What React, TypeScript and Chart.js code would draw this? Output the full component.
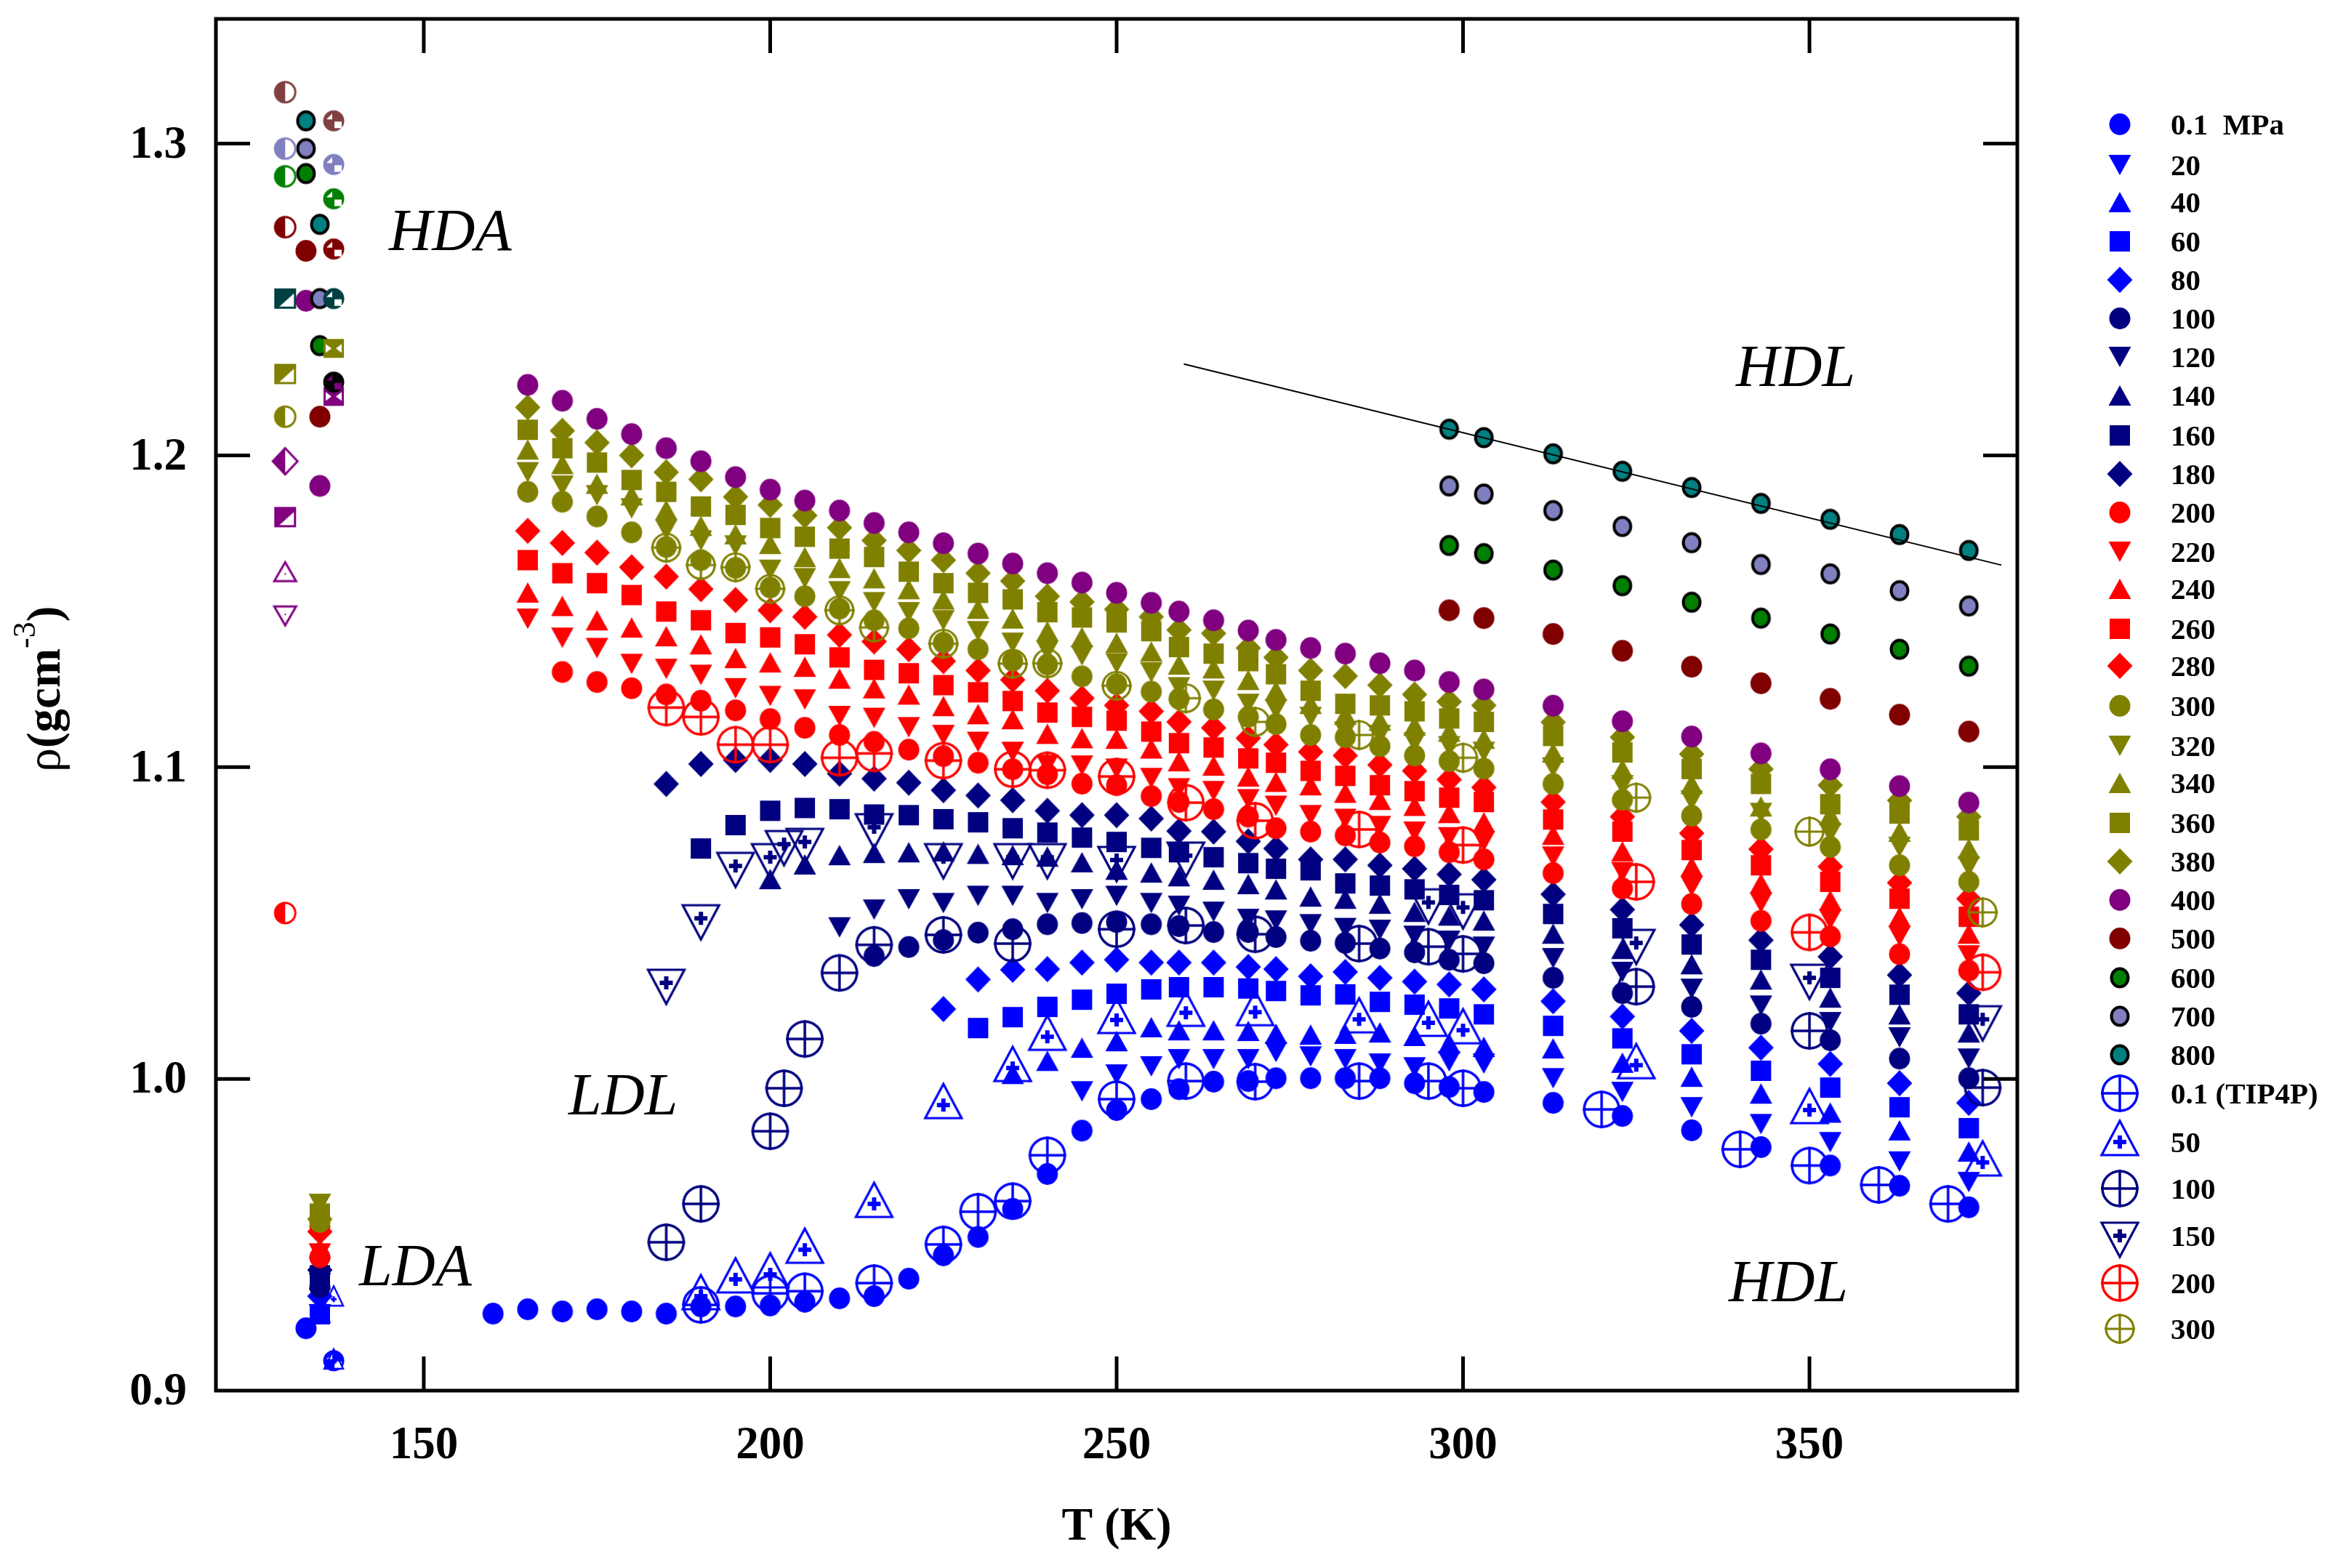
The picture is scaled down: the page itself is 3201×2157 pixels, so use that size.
import React, { useEffect, useRef } from "react";
import { Chart, registerables } from "chart.js";

Chart.register(...registerables);

// ---------- data ----------
const T_MAIN = [165,170,175,180,185,190,195,200,205,210,215,220,225,230,235,240,245,250,255,259,264,269,273,278,283,288,293,298,303,313,323,333,343,353,363,373];
const T_HIGH = [298,303,313,323,333,343,353,363,373];

const RHO_0_1 = [0.9261,0.9254,0.9261,0.9254,0.9247,0.927,0.927,0.9273,0.9285,0.9296,0.9303,0.9359,0.9434,0.9493,0.9583,0.9695,0.9834,0.99,0.9935,0.9967,0.9991,0.9993,1.0002,1.0002,1.0002,1.0002,0.9986,0.9974,0.9958,0.9923,0.9881,0.9835,0.9781,0.9722,0.9657,0.9588];
const RHO_20 = [0.996,1.0014,1.004,1.0063,1.0063,1.0063,1.0086,1.0072,1.0063,1.0049,1.0037,1.0056,1.0049,1.0002,0.9958,0.9909,0.9855,0.9797,0.9735,0.9669];
const RHO_40 = [1.0016,1.0058,1.01,1.0121,1.0166,1.0156,1.0156,1.0154,1.0145,1.0142,1.0145,1.0149,1.0138,1.0114,1.0103,1.0098,1.0052,1.0007,0.9953,0.9892,0.9835,0.9767];
const RHO_60 = [1.0163,1.0198,1.0231,1.0254,1.0273,1.0287,1.0294,1.0294,1.029,1.0282,1.0268,1.0271,1.0247,1.0238,1.0226,1.0207,1.017,1.013,1.0079,1.0026,0.9972,0.9909,0.9842];
const RHO_80 = [1.0224,1.0319,1.035,1.0352,1.0373,1.0382,1.0373,1.0373,1.0373,1.0359,1.0352,1.0329,1.0343,1.0324,1.0312,1.0303,1.0287,1.0249,1.02,1.0154,1.01,1.0048,0.9986,0.9923];
const RHO_100 = [1.0394,1.0423,1.0445,1.0469,1.048,1.0496,1.05,1.0503,1.0496,1.049,1.0471,1.0471,1.0455,1.0443,1.0436,1.0418,1.0406,1.0382,1.0371,1.0324,1.0275,1.0231,1.0177,1.0124,1.0065,1.0002];
const RHO_120 = [1.0486,1.0543,1.0576,1.0564,1.0587,1.0587,1.0564,1.0576,1.0587,1.0564,1.0555,1.0536,1.0513,1.0508,1.0496,1.0484,1.0478,1.0459,1.0443,1.0424,1.0387,1.0343,1.0289,1.0235,1.0182,1.0133,1.0065];
const RHO_140 = [1.0641,1.0688,1.0718,1.0725,1.0727,1.073,1.0722,1.0718,1.0713,1.0695,1.0671,1.0662,1.065,1.0639,1.0625,1.0608,1.0585,1.0578,1.0562,1.0536,1.0524,1.0508,1.0466,1.0417,1.0368,1.0319,1.0261,1.0207,1.0149];
const RHO_160 = [1.0739,1.0814,1.086,1.0869,1.0865,1.0848,1.0846,1.0833,1.0823,1.0804,1.079,1.0774,1.076,1.0741,1.0727,1.0711,1.0692,1.0674,1.0669,1.0627,1.062,1.0608,1.059,1.0573,1.0529,1.0483,1.0431,1.0382,1.0324,1.027,1.0207];
const RHO_180 = [1.0946,1.101,1.1023,1.1023,1.101,1.0979,1.0963,1.095,1.0926,1.0909,1.0894,1.086,1.0846,1.0846,1.0835,1.0795,1.0793,1.0762,1.0739,1.0704,1.0704,1.0685,1.0674,1.0656,1.0639,1.0592,1.0543,1.0494,1.0445,1.0392,1.0333,1.0275];
const RHO_200 = [1.1305,1.1273,1.1253,1.1233,1.1213,1.1182,1.1154,1.1126,1.1103,1.1081,1.1056,1.1035,1.1014,1.0993,1.0977,1.0947,1.0942,1.0907,1.0888,1.0865,1.0841,1.0804,1.0793,1.0781,1.0758,1.0746,1.0727,1.0704,1.066,1.0611,1.0561,1.0507,1.0457,1.04,1.0347];
const RHO_220 = [1.1476,1.1415,1.1382,1.1331,1.1315,1.1296,1.1253,1.1228,1.1217,1.1164,1.1158,1.1128,1.1103,1.1081,1.1049,1.1007,1.1005,1.0995,1.0965,1.0932,1.0923,1.0897,1.0876,1.0846,1.0834,1.0811,1.0793,1.0775,1.0762,1.0713,1.0663,1.0618,1.0565,1.0511,1.0458,1.0396];
const RHO_240 = [1.156,1.1517,1.1471,1.1448,1.142,1.1394,1.135,1.1336,1.1322,1.1284,1.1253,1.1233,1.1196,1.117,1.1154,1.1107,1.1093,1.1091,1.106,1.1019,1.1005,1.097,1.0953,1.0942,1.0918,1.0895,1.0876,1.0853,1.0823,1.0783,1.073,1.0681,1.0627,1.0573,1.052,1.0466];
const RHO_260 = [1.1664,1.1622,1.159,1.1552,1.1499,1.1471,1.143,1.1416,1.1394,1.1352,1.1312,1.1301,1.1263,1.124,1.1212,1.1175,1.1161,1.1149,1.1114,1.1077,1.1063,1.1028,1.1014,1.0988,1.0972,1.0942,1.0923,1.0902,1.0888,1.0832,1.0793,1.0734,1.0685,1.0632,1.0578,1.052];
const RHO_280 = [1.1758,1.1719,1.1688,1.1641,1.1611,1.1571,1.1536,1.1503,1.1482,1.1424,1.1403,1.1378,1.134,1.131,1.128,1.1245,1.1221,1.1198,1.1179,1.1145,1.1126,1.1093,1.1072,1.1049,1.1037,1.1007,1.0988,1.096,1.0935,1.0888,1.0841,1.0788,1.0737,1.0681,1.0629,1.0578];
const RHO_300 = [1.1883,1.1851,1.1804,1.1753,1.1706,1.1664,1.1639,1.1576,1.1548,1.1508,1.1471,1.1445,1.1399,1.1378,1.1341,1.1329,1.1291,1.1266,1.1242,1.1219,1.1185,1.1161,1.1138,1.1103,1.1096,1.1067,1.1037,1.1019,1.0995,1.0946,1.0895,1.0844,1.08,1.0744,1.0685,1.0632];
const RHO_320 = [1.1946,1.1903,1.1872,1.183,1.1762,1.1727,1.1711,1.1633,1.1606,1.1564,1.1529,1.1497,1.1471,1.1436,1.1399,1.1373,1.1358,1.1333,1.1304,1.1256,1.1245,1.1203,1.1185,1.1161,1.1114,1.1103,1.1079,1.1067,1.1049,1.0999,1.0942,1.0893,1.0853,1.0788,1.0744,1.0681];
const RHO_340 = [1.2019,1.1972,1.1909,1.1872,1.1825,1.1774,1.1747,1.1716,1.1674,1.1639,1.1606,1.1571,1.1538,1.1508,1.1477,1.1436,1.1417,1.1399,1.1371,1.1329,1.1317,1.128,1.1245,1.1203,1.1168,1.1149,1.1133,1.1114,1.1091,1.1047,1.0994,1.0946,1.0874,1.0846,1.0793,1.0739];
const RHO_360 = [1.2082,1.2023,1.1977,1.1921,1.1883,1.1836,1.1809,1.1767,1.1739,1.1701,1.1674,1.1627,1.159,1.1559,1.1538,1.1497,1.148,1.1464,1.1436,1.1385,1.1364,1.134,1.1298,1.1245,1.1203,1.1198,1.1179,1.1156,1.1145,1.11,1.1047,1.0994,1.0946,1.0881,1.0851,1.0797];
const RHO_380 = [1.2154,1.2079,1.2041,1.2,1.1946,1.1923,1.1867,1.1841,1.1807,1.1768,1.1727,1.1695,1.1664,1.1622,1.1597,1.1548,1.153,1.1506,1.1482,1.144,1.1429,1.1382,1.1352,1.131,1.1292,1.1263,1.1233,1.121,1.1198,1.1144,1.1096,1.1042,1.0994,1.0942,1.0893,1.0841];
const RHO_400 = [1.2226,1.2175,1.2117,1.2068,1.2023,1.1981,1.193,1.189,1.1855,1.1823,1.1783,1.1753,1.1718,1.1685,1.1653,1.1622,1.1592,1.1559,1.1527,1.1499,1.1471,1.1438,1.1408,1.1382,1.1364,1.1333,1.131,1.1273,1.1249,1.1197,1.1147,1.1098,1.1044,1.0993,1.0939,1.0886];
const RHO_500 = [1.1503,1.1478,1.1427,1.1373,1.1322,1.1269,1.1219,1.1168,1.1114];
const RHO_600 = [1.1711,1.1685,1.1632,1.1582,1.1529,1.1478,1.1427,1.1378,1.1324];
const RHO_700 = [1.1902,1.1876,1.1823,1.1772,1.172,1.165,1.162,1.1566,1.1517];
const RHO_800 = [1.2084,1.2057,1.2005,1.1949,1.1897,1.1846,1.1795,1.1746,1.1695];

// low-temperature points, same order as the pressures
const LDA_135 = [0.9245,0.925,0.9245,0.9303,0.9332,0.9345,0.9357,0.937,0.9387,0.9428,0.944,0.9457,0.9548,0.951,0.9541,0.9599,0.9558,0.9568,0.955];
const RHO_0_1_LOW_T = [133,160];
const RHO_0_1_LOW = [0.92,0.9247];
const HDA_133 = [1.2496,1.2656,1.2904,1.2984,1.3073]; // 400..800
const HDA_135 = [1.1902,1.2124,1.2352,1.2503,1.2741]; // 400..800

// TIP4P simulation series
const T_SIM_0_1 = [190,200,205,215,225,230,235,240,250,260,270,285,295,300,320,340,350,360,370];
const SIM_0_1 = [0.9275,0.9312,0.9319,0.9345,0.9469,0.9574,0.9608,0.9755,0.9935,0.9993,0.9991,0.9993,0.9993,0.997,0.9902,0.9774,0.9722,0.966,0.9599];
const T_SIM_50 = [190,195,200,205,215,225,235,240,250,260,270,285,295,300,325,350,375];
const SIM_50 = [0.9303,0.9357,0.9373,0.9452,0.9599,0.9916,1.0035,1.0135,1.0189,1.0212,1.0214,1.0191,1.018,1.0156,1.0044,0.99,0.9732];
const T_SIM_100 = [185,190,200,202,205,210,215,225,235,250,260,270,285,295,300,325,350,375];
const SIM_100 = [0.9476,0.9599,0.9832,0.997,1.0128,1.034,1.043,1.0462,1.0434,1.048,1.0492,1.0464,1.0434,1.0424,1.0401,1.0296,1.0154,0.9972];
const T_SIM_150 = [185,190,195,200,202,205,215,225,235,240,250,260,295,300,325,350,375];
const SIM_150 = [1.0308,1.0515,1.0683,1.0711,1.0753,1.076,1.0807,1.0711,1.0711,1.0711,1.0702,1.0716,1.0566,1.055,1.0436,1.0324,1.0191];
const T_SIM_HI = [185,190,195,200,210,215,225,235,240,250,260,270,285,300,325,350,375];
const SIM_200 = [1.1191,1.1161,1.1072,1.1072,1.103,1.1044,1.1021,1.0993,1.099,1.097,1.0886,1.0828,1.08,1.075,1.0632,1.047,1.0342];
const SIM_300 = [1.1704,1.1648,1.1641,1.1572,1.1503,1.1448,1.1396,1.1332,1.1333,1.1261,1.1221,1.1145,1.1103,1.103,1.0902,1.0793,1.0534];

// amorphous-ice single points with part-filled symbols
const HALF_CIRCLE_T = 130;
const HALF_CIRCLE_RHO = [1.3165,1.2984,1.2895,1.2732,1.2124,1.0532];
const HALF_SQUARE_RHO = [1.2503,1.2261,1.1802];
const HALF_DIAMOND_RHO = [1.1981];
const OPEN_UP_RHO = [1.1627];
const OPEN_DOWN_RHO = [1.1485];
const QUARTER_T = 137;
const QUARTER_RHO = [1.3073,1.2933,1.2823,1.2662,1.2503,0.9096];
const BLACK_QUARTER_RHO = [1.2235];
const BOWTIE_RHO = [1.2189,1.2343];
const SMALL_OPEN_UP_RHO = [0.9298,0.9096];

const FIT_LINE_T = [259.7,377.7];
const FIT_LINE_RHO = [1.2293,1.1648];

const X_MAJOR_STEP = 50;
const LEGEND_LABELS = ["0.1  MPa","20","40","60","80","100","120","140","160","180","200","220","240","260","280","300","320","340","360","380","400","500","600","700","800","0.1 (TIP4P)","50","100","150","200","300"];

// ---------- style ----------
const BLUE = "#0000ff", NAVY = "#000080", RED = "#ff0000", OLIVE = "#808000", PURPLE = "#800080";
const MAROON = "#800000", GREEN = "#008000", LAV = "#8080c0", TEAL = "#008080", BROWN = "#804040", DTEAL = "#004040";
const SERIF = "'Liberation Serif', 'Times New Roman', serif";
const LEGEND_ROW_Y = [171,227,278,332,385,438,491,544,599,652,705,759,810,865,916,971,1026,1077,1132,1185,1238,1291,1345,1398,1451,1504,1571,1635,1700,1765,1828];

function poly(c: any, pts: number[][]) {
  c.beginPath();
  pts.forEach((p, i) => (i ? c.lineTo(p[0], p[1]) : c.moveTo(p[0], p[1])));
  c.closePath();
}
function marker(kind: string, color: string, inner = "#ffffff") {
  const cv = document.createElement("canvas");
  cv.width = 80; cv.height = 80;
  const c: any = cv.getContext("2d");
  c.translate(40, 40);
  c.fillStyle = color; c.strokeStyle = color;
  const plus = (s: number, t: number, y = 0) => {
    c.fillRect(-s, y - t / 2, 2 * s, t);
    c.fillRect(-t / 2, y - s, t, 2 * s);
  };
  const crossCircle = (r: number, w: number) => {
    c.lineWidth = w;
    c.beginPath(); c.arc(0, 0, r, 0, Math.PI * 2); c.stroke();
    c.beginPath(); c.moveTo(-r - 2, 0); c.lineTo(r + 2, 0); c.moveTo(0, -r - 2); c.lineTo(0, r + 2); c.stroke();
  };
  switch (kind) {
    case "circle": c.beginPath(); c.ellipse(0, 0, 14.5, 15, 0, 0, Math.PI * 2); c.fill(); break;
    case "triDown": poly(c, [[-15.5,-14],[15.5,-14],[0,14]]); c.fill(); break;
    case "triUp": poly(c, [[-15.5,14],[15.5,14],[0,-14]]); c.fill(); break;
    case "square": c.fillRect(-14, -14, 28, 28); break;
    case "diamond": poly(c, [[0,-18],[17.5,0],[0,18],[-17.5,0]]); c.fill(); break;
    case "ringed":
      c.beginPath(); c.ellipse(0, 0, 11.5, 12.5, 0, 0, Math.PI * 2); c.fill();
      c.strokeStyle = "#000"; c.lineWidth = 4; c.stroke();
      break;
    case "crossCircle": crossCircle(24, 3.5); break;
    case "crossCircleSmall": crossCircle(19, 3.2); break;
    case "crossTriUp":
      c.lineWidth = 3.2; poly(c, [[0,-29],[25,18],[-25,18]]); c.stroke(); plus(9, 6, 0); break;
    case "crossTriDown":
      c.lineWidth = 3.2; poly(c, [[0,29],[25,-18],[-25,-18]]); c.stroke(); plus(9, 6, 0); break;
    case "halfCircle":
      c.lineWidth = 3; c.beginPath(); c.arc(0, 0, 14, 0, Math.PI * 2); c.stroke();
      c.beginPath(); c.arc(0, 0, 14, Math.PI / 2, Math.PI * 1.5); c.closePath(); c.fill(); break;
    case "halfSquare":
      c.fillRect(-15, -14, 30, 28);
      c.fillStyle = "#fff"; poly(c, [[12,-7],[12,11],[-8,11]]); c.fill(); break;
    case "halfDiamond":
      c.lineWidth = 3; poly(c, [[0,-18],[17,0],[0,18],[-17,0]]); c.stroke();
      poly(c, [[0,-18],[0,18],[-17,0]]); c.fill(); break;
    case "openUp":
      c.lineWidth = 3; poly(c, [[0,-13],[15,13],[-15,13]]); c.stroke(); c.fillRect(-1, 2, 2, 2); break;
    case "openDown":
      c.lineWidth = 3; poly(c, [[0,13],[15,-13],[-15,-13]]); c.stroke(); c.fillRect(-1, -3, 2, 2); break;
    case "smallOpenUp":
      c.lineWidth = 2.4; poly(c, [[0,-16],[13,11],[-13,11]]); c.stroke(); plus(4, 3, 2); break;
    case "quarter":
      c.beginPath(); c.arc(0, 0, 14.5, 0, Math.PI * 2); c.fill();
      c.fillStyle = inner;
      c.fillRect(1, 1, 10, 9);
      poly(c, [[-10,-2],[-2,-2],[-2,-10]]); c.fill();
      break;
    case "bowtie":
      c.fillRect(-14, -13, 28, 26);
      c.fillStyle = "#fff";
      poly(c, [[-11,-6],[-3,0],[-11,6]]); c.fill();
      poly(c, [[11,-6],[3,0],[11,6]]); c.fill();
      break;
  }
  return cv;
}

const at = (Ts: number[], rhos: number[]) => rhos.map((y, i) => ({ x: Ts[i], y }));
const tail = (rhos: number[]) => at(T_MAIN.slice(T_MAIN.length - rhos.length), rhos);
const lda = (i: number) => ({ x: 135, y: LDA_135[i] });

function buildSeries() {
  const solid = (i: number, rhos: number[], kind: string, color: string) => ({
    label: LEGEND_LABELS[i], kind, color, data: [lda(i - 1), ...tail(rhos)],
  });
  const high = (i: number, j: number, rhos: number[], kind: string, color: string) => ({
    label: LEGEND_LABELS[i], kind, color,
    data: [{ x: 133, y: HDA_133[j] }, { x: 135, y: HDA_135[j] }, ...at(T_HIGH, rhos)],
  });
  return [
    { label: LEGEND_LABELS[0], kind: "circle", color: BLUE, data: [...at(RHO_0_1_LOW_T, RHO_0_1_LOW), ...tail(RHO_0_1)] },
    solid(1, RHO_20, "triDown", BLUE),
    solid(2, RHO_40, "triUp", BLUE),
    solid(3, RHO_60, "square", BLUE),
    solid(4, RHO_80, "diamond", BLUE),
    solid(5, RHO_100, "circle", NAVY),
    solid(6, RHO_120, "triDown", NAVY),
    solid(7, RHO_140, "triUp", NAVY),
    solid(8, RHO_160, "square", NAVY),
    solid(9, RHO_180, "diamond", NAVY),
    solid(10, RHO_200, "circle", RED),
    solid(11, RHO_220, "triDown", RED),
    solid(12, RHO_240, "triUp", RED),
    solid(13, RHO_260, "square", RED),
    solid(14, RHO_280, "diamond", RED),
    solid(15, RHO_300, "circle", OLIVE),
    solid(16, RHO_320, "triDown", OLIVE),
    solid(17, RHO_340, "triUp", OLIVE),
    solid(18, RHO_360, "square", OLIVE),
    solid(19, RHO_380, "diamond", OLIVE),
    { label: LEGEND_LABELS[20], kind: "circle", color: PURPLE, data: [{ x: 133, y: HDA_133[0] }, { x: 135, y: HDA_135[0] }, ...tail(RHO_400)] },
    high(21, 1, RHO_500, "circle", MAROON),
    high(22, 2, RHO_600, "ringed", GREEN),
    high(23, 3, RHO_700, "ringed", LAV),
    high(24, 4, RHO_800, "ringed", TEAL),
    { label: LEGEND_LABELS[25], kind: "crossCircle", color: BLUE, data: at(T_SIM_0_1, SIM_0_1) },
    { label: LEGEND_LABELS[26], kind: "crossTriUp", color: BLUE, data: at(T_SIM_50, SIM_50) },
    { label: LEGEND_LABELS[27], kind: "crossCircle", color: NAVY, data: at(T_SIM_100, SIM_100) },
    { label: LEGEND_LABELS[28], kind: "crossTriDown", color: NAVY, data: at(T_SIM_150, SIM_150) },
    { label: LEGEND_LABELS[29], kind: "crossCircle", color: RED, data: at(T_SIM_HI, SIM_200) },
    { label: LEGEND_LABELS[30], kind: "crossCircleSmall", color: OLIVE, data: at(T_SIM_HI, SIM_300) },
  ];
}

function buildExtras() {
  const out: any[] = [];
  const add = (kind: string, color: string, x: number, y: number, inner?: string) =>
    out.push({ kind, color, inner, data: [{ x, y }] });
  [BROWN, LAV, GREEN, MAROON, OLIVE, RED].forEach((col, i) => add("halfCircle", col, HALF_CIRCLE_T, HALF_CIRCLE_RHO[i]));
  [DTEAL, OLIVE, PURPLE].forEach((col, i) => add("halfSquare", col, HALF_CIRCLE_T, HALF_SQUARE_RHO[i]));
  add("halfDiamond", PURPLE, HALF_CIRCLE_T, HALF_DIAMOND_RHO[0]);
  add("openUp", PURPLE, HALF_CIRCLE_T, OPEN_UP_RHO[0]);
  add("openDown", PURPLE, HALF_CIRCLE_T, OPEN_DOWN_RHO[0]);
  add("bowtie", PURPLE, QUARTER_T, BOWTIE_RHO[0]);
  add("bowtie", OLIVE, QUARTER_T, BOWTIE_RHO[1]);
  [BROWN, LAV, GREEN, MAROON, DTEAL, BLUE].forEach((col, i) => add("quarter", col, QUARTER_T, QUARTER_RHO[i]));
  add("quarter", "#000000", QUARTER_T, BLACK_QUARTER_RHO[0], PURPLE);
  SMALL_OPEN_UP_RHO.forEach((v) => add("smallOpenUp", BLUE, QUARTER_T, v));
  return out;
}

const ANNOTATIONS: [string, number, number][] = [
  ["HDA", 535, 344],
  ["HDL", 2388, 531],
  ["HDL", 2378, 1790],
  ["LDL", 782, 1533],
  ["LDA", 494, 1768],
];

export default function App() {
  const ref = useRef<HTMLCanvasElement>(null);
  useEffect(() => {
    const series = buildSeries().map((s) => ({ ...s, canvas: marker(s.kind, s.color) }));
    const extras = buildExtras().map((s) => ({ ...s, canvas: marker(s.kind, s.color, s.inner) }));
    const all: any[] = [...series, ...extras];
    const datasets: any[] = all.map((s, i) => ({
      label: s.label ?? "",
      data: s.data,
      pointStyle: s.canvas,
      pointRadius: 14,
      pointHoverRadius: 14,
      showLine: false,
      clip: false,
      order: all.length + 1 - i,
    }));
    datasets.push({
      label: "fit",
      data: at(FIT_LINE_T, FIT_LINE_RHO),
      showLine: true,
      pointRadius: 0,
      borderColor: "#000000",
      borderWidth: 2,
      clip: false,
      order: 0,
    });

    const decor = {
      id: "decor",
      beforeDraw(chart: any) {
        const c = chart.ctx;
        c.save();
        c.fillStyle = "#ffffff";
        c.fillRect(0, 0, chart.width, chart.height);
        c.restore();
      },
      afterDatasetsDraw(chart: any) {
        const c = chart.ctx;
        const { left, right, top, bottom } = chart.chartArea;
        const xs = chart.scales.x, ys = chart.scales.y;
        c.save();
        c.strokeStyle = "#000";
        c.lineCap = "butt";
        xs.ticks.forEach((t: any) => {
          if (t.value <= xs.min || t.value >= xs.max) return;
          const major = Math.round(t.value) % X_MAJOR_STEP === 0;
          const len = major ? 47 : 23;
          const px = xs.getPixelForValue(t.value);
          c.lineWidth = major ? 5 : 4;
          c.beginPath();
          c.moveTo(px, bottom); c.lineTo(px, bottom - len);
          c.moveTo(px, top); c.lineTo(px, top + len);
          c.stroke();
        });
        ys.ticks.forEach((t: any) => {
          if (t.value <= ys.min + 1e-6 || t.value >= ys.max - 1e-6) return;
          const major = Math.round(t.value * 100) % 10 === 0;
          const len = major ? 47 : 23;
          const py = ys.getPixelForValue(t.value);
          c.lineWidth = major ? 5 : 4;
          c.beginPath();
          c.moveTo(left, py); c.lineTo(left + len, py);
          c.moveTo(right, py); c.lineTo(right - len, py);
          c.stroke();
        });
        c.lineWidth = 5;
        c.strokeRect(left, top, right - left, bottom - top);

        c.fillStyle = "#000";
        c.textBaseline = "alphabetic";
        c.textAlign = "left";
        c.font = `italic 400 82px ${SERIF}`;
        ANNOTATIONS.forEach(([txt, x, y]) => c.fillText(txt, x, y));

        // y-axis title with a true superscript
        c.save();
        c.translate(82, 1062);
        c.rotate(-Math.PI / 2);
        let pen = 0;
        const put = (txt: string, font: string, rise: number) => {
          c.font = font;
          c.fillText(txt, pen, -rise);
          pen += c.measureText(txt).width;
        };
        put("ρ", `400 66px ${SERIF}`, 0);
        put("(gcm", `bold 65px ${SERIF}`, 0);
        put("-3", `400 44px ${SERIF}`, 34);
        put(")", `bold 65px ${SERIF}`, 0);
        c.restore();

        c.font = `bold 41px ${SERIF}`;
        c.textBaseline = "middle";
        series.forEach((s, i) => {
          const y = LEGEND_ROW_Y[i];
          c.drawImage(s.canvas, 2916 - 40, y - 40);
          c.fillText(LEGEND_LABELS[i], 2986, y + 3);
        });
        c.restore();
      },
    };

    const chart = new Chart(ref.current as any, {
      type: "scatter",
      data: { datasets },
      plugins: [decor],
      options: {
        animation: false,
        responsive: false,
        devicePixelRatio: 1,
        events: [],
        layout: { padding: { left: 0, right: 426, top: 26, bottom: 0 } },
        plugins: { legend: { display: false }, tooltip: { enabled: false } },
        scales: {
          x: {
            type: "linear",
            min: 120,
            max: 380,
            grid: { display: false },
            border: { display: false },
            afterFit(s: any) { s.height = 244; s.paddingLeft = 0; s.paddingRight = 0; },
            ticks: {
              stepSize: 5,
              autoSkip: false,
              maxRotation: 0,
              padding: 31,
              color: "#000",
              font: { family: SERIF, size: 63, weight: "bold" },
              callback: (v: any) => (Math.round(v) % X_MAJOR_STEP === 0 ? String(Math.round(v)) : null),
            },
            title: {
              display: true,
              text: "T (K)",
              color: "#000",
              font: { family: SERIF, size: 64, weight: "bold", lineHeight: 1 },
              padding: { top: 0, bottom: 24 },
            },
          },
          y: {
            type: "linear",
            min: 0.9,
            max: 1.34,
            grid: { display: false },
            border: { display: false },
            afterFit(s: any) { s.width = 297; s.paddingTop = 0; s.paddingBottom = 0; },
            ticks: {
              stepSize: 0.01,
              autoSkip: false,
              padding: 32,
              labelOffset: 3,
              color: "#000",
              font: { family: SERIF, size: 63, weight: "bold" },
              callback: (v: any) => (Math.round(v * 100) % 10 === 0 ? Number(v).toFixed(1) : null),
            },
          },
        },
      } as any,
    });
    return () => chart.destroy();
  }, []);
  return (
    <div style={{ position: "fixed", left: 0, top: 0, width: 3201, height: 2157, background: "#fff" }}>
      <canvas ref={ref} width={3201} height={2157} style={{ display: "block", width: 3201, height: 2157 }} />
    </div>
  );
}
